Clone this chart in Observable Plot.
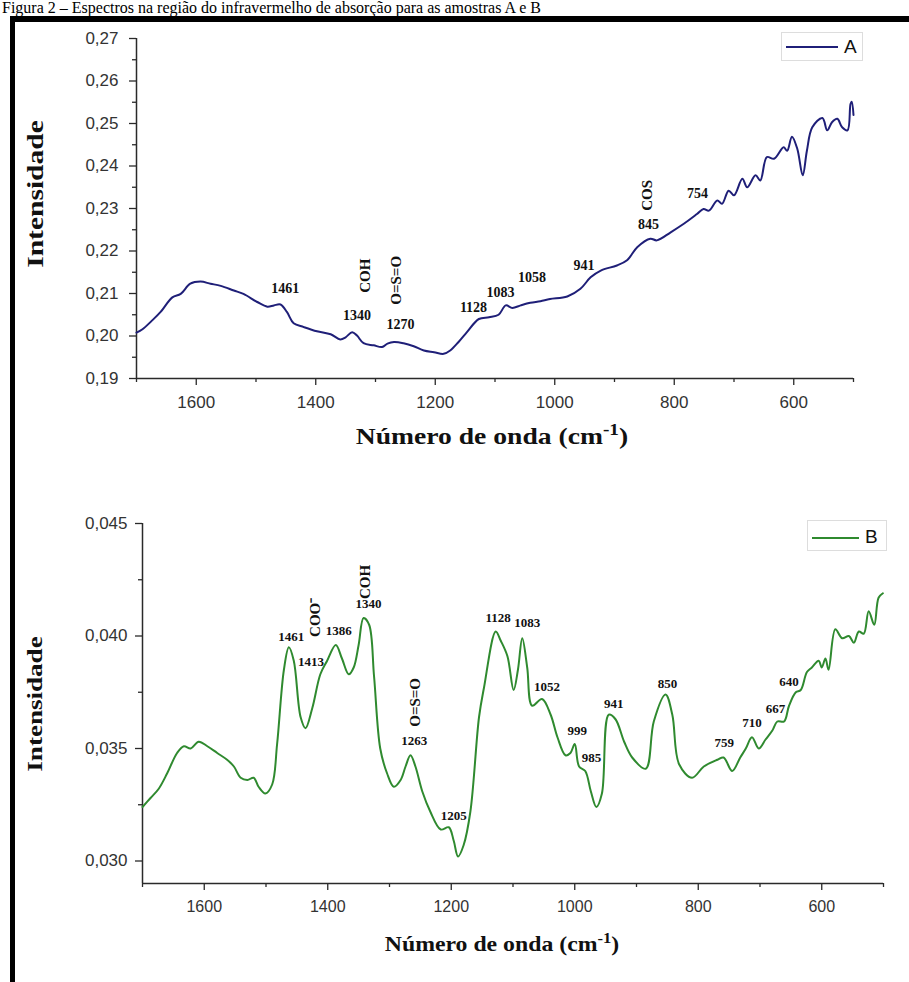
<!DOCTYPE html>
<html><head><meta charset="utf-8">
<script src="https://cdn.jsdelivr.net/npm/d3@7"></script>
<script src="https://cdn.jsdelivr.net/npm/@observablehq/plot@0.6"></script>
<style>
body{margin:0;background:#fff;}
#wrap{position:relative;width:909px;height:982px;overflow:hidden;background:#fff;}
.frame{position:absolute;left:10px;top:16px;width:1000px;height:1000px;border-left:5px solid #000;border-top:6px solid #000;}
.caption{position:absolute;left:2px;top:0px;font:16px/16px "Liberation Serif",serif;white-space:nowrap;color:#000;}
.panel{position:absolute;left:0;}
.xt{position:absolute;font-family:"Liberation Serif",serif;font-weight:bold;white-space:nowrap;color:#111;line-height:1;}
.xt sup{font-size:0.7em;vertical-align:0.55em;line-height:0;}
.yt{position:absolute;font-family:"Liberation Serif",serif;font-weight:bold;white-space:nowrap;color:#111;line-height:1;}
.leg{position:absolute;border:1px solid #ddd;background:#fff;}
.leg .ln{position:absolute;height:2px;}
.leg .lt{position:absolute;font:19px "Liberation Sans",Arial,sans-serif;color:#111;line-height:1;}
</style>
</head><body>
<div id="wrap">
  <div class="caption">Figura 2 – Espectros na região do infravermelho de absorção para as amostras A e B</div>
  <div class="frame"></div>
  <div class="panel" id="pA" style="top:0px"></div>
  <div class="panel" id="pB" style="top:480px"></div>
  <div class="xt" style="left:492px;top:425px;font-size:23px;transform:translateX(-50%) scaleX(1.2);">Número de onda (cm<sup>-1</sup>)</div>
  <div class="xt" style="left:502px;top:933px;font-size:22px;transform:translateX(-50%) scaleX(1.08);">Número de onda (cm<sup>-1</sup>)</div>
  <div class="yt" style="left:35px;top:194px;font-size:24px;transform:translate(-50%,-50%) rotate(-90deg) scaleX(1.23);">Intensidade</div>
  <div class="yt" style="left:35px;top:704px;font-size:22px;transform:translate(-50%,-50%) rotate(-90deg) scaleX(1.23);">Intensidade</div>
  <div class="leg" style="left:781px;top:32px;width:80px;height:27px;">
    <div class="ln" style="left:4px;top:13px;width:52px;background:#1f1f78;"></div>
    <div class="lt" style="left:62px;top:4px;">A</div>
  </div>
  <div class="leg" style="left:807px;top:520px;width:78px;height:29px;">
    <div class="ln" style="left:4px;top:16px;width:47px;background:#2f8a2f;"></div>
    <div class="lt" style="left:57px;top:6px;">B</div>
  </div>
</div>
<script>
// ---------- Data: spectrum A ----------
const wnA = [1700,1690,1675,1660,1640,1626,1610,1593,1576,1559,1537,1521,1498,1481,1470,1459,1448,1437,1420,1398,1375,1359,1350,1339,1331,1320,1303,1289,1280,1269,1253,1236,1219,1202,1186,1175,1161,1147,1127,1110,1094,1082,1071,1057,1041,1024,1008,979,957,940,923,896,879,862,840,829,806,784,762,751,742,728,720,709,700,686,678,664,656,645,633,617,611,603,594,585,578,569,552,544,536,527,519,510,505,503,500];
const intA = [0.2008,0.2016,0.2035,0.2056,0.2091,0.2099,0.2123,0.2128,0.2123,0.2118,0.2107,0.2099,0.2080,0.2069,0.2072,0.2074,0.2056,0.2030,0.2021,0.2011,0.2004,0.1992,0.1997,0.2009,0.2001,0.1983,0.1978,0.1974,0.1982,0.1986,0.1983,0.1976,0.1966,0.1962,0.1958,0.1966,0.1986,0.2009,0.2040,0.2044,0.2050,0.2072,0.2066,0.2072,0.2078,0.2082,0.2087,0.2093,0.2111,0.2138,0.2154,0.2166,0.2178,0.2209,0.2229,0.2225,0.2244,0.2264,0.2287,0.2299,0.2295,0.2319,0.2311,0.2342,0.2331,0.2370,0.2350,0.2378,0.2366,0.2421,0.2417,0.2444,0.2436,0.2469,0.2440,0.2378,0.2436,0.2491,0.2513,0.2484,0.2503,0.2511,0.2491,0.2484,0.2546,0.2551,0.2520];

// ---------- Data: spectrum B ----------
const wnB = [1700,1687,1674,1660,1644,1633,1622,1609,1595,1579,1563,1552,1541,1530,1520,1512,1501,1490,1482,1471,1463,1455,1444,1436,1425,1412,1401,1387,1377,1366,1358,1350,1342,1333,1325,1315,1304,1293,1282,1274,1266,1258,1247,1234,1217,1204,1196,1189,1180,1169,1155,1147,1128,1120,1109,1099,1092,1085,1077,1069,1053,1039,1028,1015,1007,1000,993,983,974,965,956,945,934,920,907,885,872,853,842,831,810,791,769,759,745,732,723,713,702,691,680,672,661,653,642,634,624,616,605,600,594,589,578,567,556,548,540,532,524,515,508,501];
const intB = [0.0324,0.0328,0.0332,0.0339,0.0348,0.0351,0.0350,0.0353,0.0351,0.0348,0.0345,0.0342,0.0337,0.0336,0.0337,0.0333,0.0330,0.0334,0.0352,0.0385,0.0395,0.0389,0.0364,0.0359,0.0368,0.0383,0.0389,0.0396,0.0390,0.0383,0.0386,0.0396,0.0408,0.0405,0.0382,0.0350,0.0339,0.0333,0.0336,0.0342,0.0347,0.0342,0.0331,0.0322,0.0314,0.0315,0.0309,0.0302,0.0307,0.0322,0.0364,0.0377,0.0402,0.0398,0.0391,0.0376,0.0385,0.0399,0.0386,0.0369,0.0372,0.0365,0.0355,0.0347,0.0348,0.0352,0.0342,0.0340,0.0331,0.0324,0.0330,0.0365,0.0363,0.0353,0.0346,0.0341,0.0362,0.0374,0.0365,0.0343,0.0337,0.0342,0.0345,0.0346,0.0340,0.0346,0.0350,0.0355,0.0350,0.0354,0.0358,0.0362,0.0362,0.0369,0.0375,0.0376,0.0384,0.0386,0.0389,0.0386,0.0390,0.0385,0.0403,0.0399,0.0400,0.0397,0.0402,0.0401,0.0411,0.0405,0.0417,0.0419];

// ---------- Ticks ----------
const xTicks = [1600,1400,1200,1000,800,600];
const xMinor = [1700,1500,1300,1100,900,700,500];
const yTicksA = [0.19,0.20,0.21,0.22,0.23,0.24,0.25,0.26,0.27];
const yMinorA = [0.195,0.205,0.215,0.225,0.235,0.245,0.255,0.265];
const yTicksB = [0.030,0.035,0.040,0.045];
const yMinorB = [0.0325,0.0375,0.0425];

// ---------- Annotations (peak numbers and group labels, in data units) ----------
const peakTextA = ["1461","1340","1270","1128","1083","1058","941","845","754"];
const peakXA    = [1451,1331,1258,1136,1091,1038,951,843,761];
const peakYA    = [0.2111,0.2048,0.2027,0.2068,0.2103,0.2137,0.2166,0.2262,0.2335];
const groupTextA = ["COH","O=S=O","COS"];
const groupXA    = [1318,1265,845];
const groupYA    = [0.2142,0.2131,0.2331];

const peakTextB = ["1461","1413","1386","1340","1263","1205","1128","1083","1052","999","985","941","850","759","710","667","640"];
const peakXB    = [1459,1427,1382,1334,1260,1196,1124,1077,1045,996,973,937,850,758,713,675,653];
const peakYB    = [0.03997,0.03883,0.04024,0.04143,0.03534,0.03200,0.04081,0.04057,0.03775,0.03579,0.03460,0.03700,0.03789,0.03527,0.03616,0.03678,0.03797];
const groupTextB = ["COO⁻","COH","O=S=O"];
const groupXB    = [1420,1339,1258];
const groupYB    = [0.04083,0.04240,0.03705];

// ---------- Build tables ----------
const zip = (xs, ys) => xs.map((x, i) => ({x, y: ys[i]}));
const seriesA = zip(wnA, intA);
const seriesB = zip(wnB, intB);
const lab = (t, xs, ys) => t.map((s, i) => ({t: s, x: xs[i], y: ys[i]}));
const peaksA = lab(peakTextA, peakXA, peakYA);
const groupsA = lab(groupTextA, groupXA, groupYA);
const peaksB = lab(peakTextB, peakXB, peakYB);
const groupsB = lab(groupTextB, groupXB, groupYB);

const commaFmt = (n) => (d) => d3.format("." + n + "f")(d).replace(".", ",");
const axisColor = "#2a2a2a";
const serif = "Liberation Serif, Times New Roman, serif";

function panel({series, color, yDomain, yTicks, yMinor, yFmt, peaks, groups, height, mt, mb, ml, mr, fs, fsx, ytp, peakFs, groupFs}) {
  return Plot.plot({
    width: 909, height,
    marginTop: mt, marginBottom: mb, marginLeft: ml, marginRight: mr,
    x: {domain: [1700, 500]},
    y: {domain: yDomain},
    style: {fontFamily: "Liberation Sans, Arial, sans-serif", color: "#333", background: "transparent", overflow: "visible"},
    marks: [
      Plot.axisY(yTicks, {tickSize: 7, tickPadding: ytp, tickFormat: yFmt, label: null, fontSize: fs, stroke: axisColor, strokeWidth: 1.3}),
      Plot.axisY(yMinor, {tickSize: 4, tickFormat: () => "", label: null, stroke: axisColor, strokeWidth: 1.3}),
      Plot.axisX(xTicks, {tickSize: 7, tickPadding: 10, tickFormat: d => String(d), label: null, fontSize: fsx, stroke: axisColor, strokeWidth: 1.3}),
      Plot.axisX(xMinor, {tickSize: 4, tickFormat: () => "", label: null, stroke: axisColor, strokeWidth: 1.3}),
      Plot.ruleX([1700], {stroke: axisColor, strokeWidth: 1.5}),
      Plot.ruleY([yDomain[0]], {stroke: axisColor, strokeWidth: 1.5}),
      Plot.line(series, {x: "x", y: "y", stroke: color, strokeWidth: 2, curve: "catmull-rom"}),
      Plot.text(peaks, {x: "x", y: "y", text: "t", fontFamily: serif, fontWeight: "bold", fontSize: peakFs, fill: "#111"}),
      Plot.text(groups, {x: "x", y: "y", text: "t", rotate: -90, fontFamily: serif, fontWeight: "bold", fontSize: groupFs, fill: "#111"})
    ]
  });
}

const chartA = panel({
  series: seriesA, color: "#1f1f78", yDomain: [0.19, 0.27], yTicks: yTicksA, yMinor: yMinorA, yFmt: commaFmt(2),
  peaks: peaksA, groups: groupsA, height: 410, mt: 38, mb: 32, ml: 136, mr: 56, fs: 17, fsx: 17, ytp: 11, peakFs: 14, groupFs: 15
});
const chartB = panel({
  series: seriesB, color: "#2f8a2f", yDomain: [0.029, 0.045], yTicks: yTicksB, yMinor: yMinorB, yFmt: commaFmt(3),
  peaks: peaksB, groups: groupsB, height: 430, mt: 43, mb: 27, ml: 142, mr: 26, fs: 17, fsx: 16, ytp: 8, peakFs: 13, groupFs: 15
});
document.getElementById("pA").appendChild(chartA);
document.getElementById("pB").appendChild(chartB);
</script>
</body></html>
